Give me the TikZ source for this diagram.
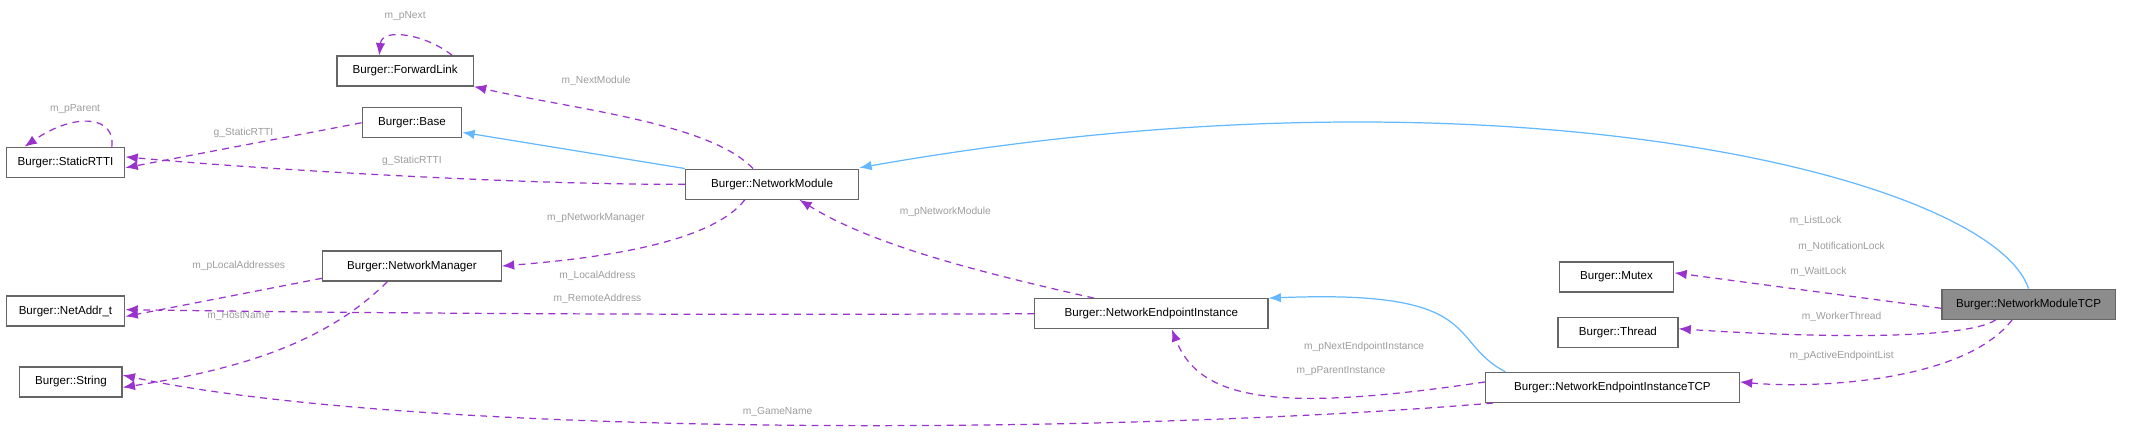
\documentclass[tikz,border=0pt]{standalone}
\usepackage{fontspec}
\setmainfont{Liberation Sans}
\usetikzlibrary{arrows.meta}
\definecolor{usecol}{HTML}{9A32CD}
\definecolor{inhcol}{HTML}{63B8FF}
\definecolor{lblcol}{HTML}{9C9C9C}
\tikzset{
  cls/.style={draw=black!60,line width=0.9pt,fill=white,minimum height=22pt,inner xsep=4pt,font=\fontsize{8.5}{9}\selectfont},
  usage/.style={draw=usecol,dashed,dash pattern=on 5pt off 4pt,line width=0.9pt,-{Latex[length=9pt,width=7pt]}},
  inherit/.style={draw=inhcol,line width=0.9pt,-{Latex[length=9pt,width=7pt]}},
  lbl/.style={text=lblcol,font=\fontsize{7.5}{8}\selectfont}
}
\begin{document}
\begin{tikzpicture}[x=1pt,y=-1pt]
\useasboundingbox (0,0) rectangle (1568,318);
% klassen
\node[cls,minimum width=100pt] (fwd) at (297,52) {Burger::ForwardLink};
\node[cls,minimum width=73pt] (base) at (302,90) {Burger::Base};
\node[cls,minimum width=87pt] (rtti) at (48,119) {Burger::StaticRTTI};
\node[cls,minimum width=127pt] (nm) at (566,135) {Burger::NetworkModule};
\node[cls,minimum width=131pt] (mgr) at (302,195) {Burger::NetworkManager};
\node[cls,minimum width=87pt] (addr) at (48,228) {Burger::NetAddr\_t};
\node[cls,minimum width=75pt] (str) at (52,280) {Burger::String};
\node[cls,minimum width=84pt] (mutex) at (1185,203) {Burger::Mutex};
\node[cls,minimum width=88pt] (thread) at (1186,244) {Burger::Thread};
\node[cls,minimum width=127pt,fill=black!45] (tcp) at (1487,223) {Burger::NetworkModuleTCP};
\node[cls,minimum width=171pt] (nei) at (844,230) {Burger::NetworkEndpointInstance};
\node[cls,minimum width=186pt] (neitcp) at (1182,284) {Burger::NetworkEndpointInstanceTCP};
% vererbung
\draw[inherit] (nm.north west) -- (base.east|-0,97);
\draw[inherit] (tcp.north) .. controls (1460,130) and (1100,40) .. (nm.east|-0,123);
\draw[inherit] ([xshift=15pt]neitcp.north west) .. controls (1060,250) and (1090,212) .. (nei.north east);
% member
\draw[usage] ([xshift=-16pt]fwd.north east) .. controls (312,25) and (280,20) .. ([xshift=-19pt]fwd.north);
\node[lbl] at (297,12) {m\_pNext};
\draw[usage] ([xshift=-10pt]rtti.north east) .. controls (85,85) and (55,82) .. ([xshift=-30pt]rtti.north);
\node[lbl] at (55,80) {m\_pParent};
\draw[usage] (base.west) -- ([yshift=-4pt]rtti.east) node[lbl,pos=0.5,above=2pt] {g\_StaticRTTI};
\draw[usage] (nm.west) .. controls (400,136) and (200,125) .. ([yshift=4pt]rtti.east);
\node[lbl] at (302,118) {g\_StaticRTTI};
\draw[usage] ([xshift=-14pt]nm.north) .. controls (520,90) and (420,80) .. (fwd.south east);
\node[lbl] at (437,59) {m\_NextModule};
\draw[usage] ([xshift=-20pt]nm.south) .. controls (520,180) and (430,190) .. (mgr.east);
\node[lbl] at (437,160) {m\_pNetworkManager};
\draw[usage] (mgr.west|-0,204) -- ([yshift=-4pt]addr.east);
\node[lbl] at (175,195) {m\_pLocalAddresses};
\draw[usage] ([xshift=-18pt]mgr.south) .. controls (240,250) and (180,270) .. ([yshift=-4pt]str.east);
\node[lbl] at (175,232) {m\_HostName};
\draw[usage] (nei.west) .. controls (500,231) and (300,230) .. ([yshift=1pt]addr.east);
\node[lbl] at (438,202) {m\_LocalAddress};
\node[lbl] at (438,219) {m\_RemoteAddress};
\draw[usage] ([xshift=-42pt]nei.north) .. controls (720,200) and (640,180) .. ([xshift=20pt]nm.south);
\node[lbl] at (693,155) {m\_pNetworkModule};
\draw[usage] ([yshift=4pt]neitcp.west) .. controls (940,302) and (880,295) .. ([xshift=15pt]nei.south);
\node[lbl] at (1000,254) {m\_pNextEndpointInstance};
\node[lbl] at (983,272) {m\_pParentInstance};
\draw[usage] ([xshift=6pt]neitcp.south west) .. controls (800,320) and (300,320) .. ([yshift=5pt]str.east);
\node[lbl] at (570,302) {m\_GameName};
\draw[usage] ([yshift=-3pt]tcp.west) -- ([yshift=3pt]mutex.east);
\node[lbl] at (1331,162) {m\_ListLock};
\node[lbl] at (1350,181) {m\_NotificationLock};
\node[lbl] at (1333,199) {m\_WaitLock};
\draw[usage] ([xshift=-24pt]tcp.south) .. controls (1440,250) and (1320,247) .. ([yshift=3pt]thread.east);
\node[lbl] at (1350,232) {m\_WorkerThread};
\draw[usage] ([xshift=-12pt]tcp.south) .. controls (1440,280) and (1330,285) .. ([yshift=4pt]neitcp.east);
\node[lbl] at (1350,261) {m\_pActiveEndpointList};
\end{tikzpicture}
\end{document}
